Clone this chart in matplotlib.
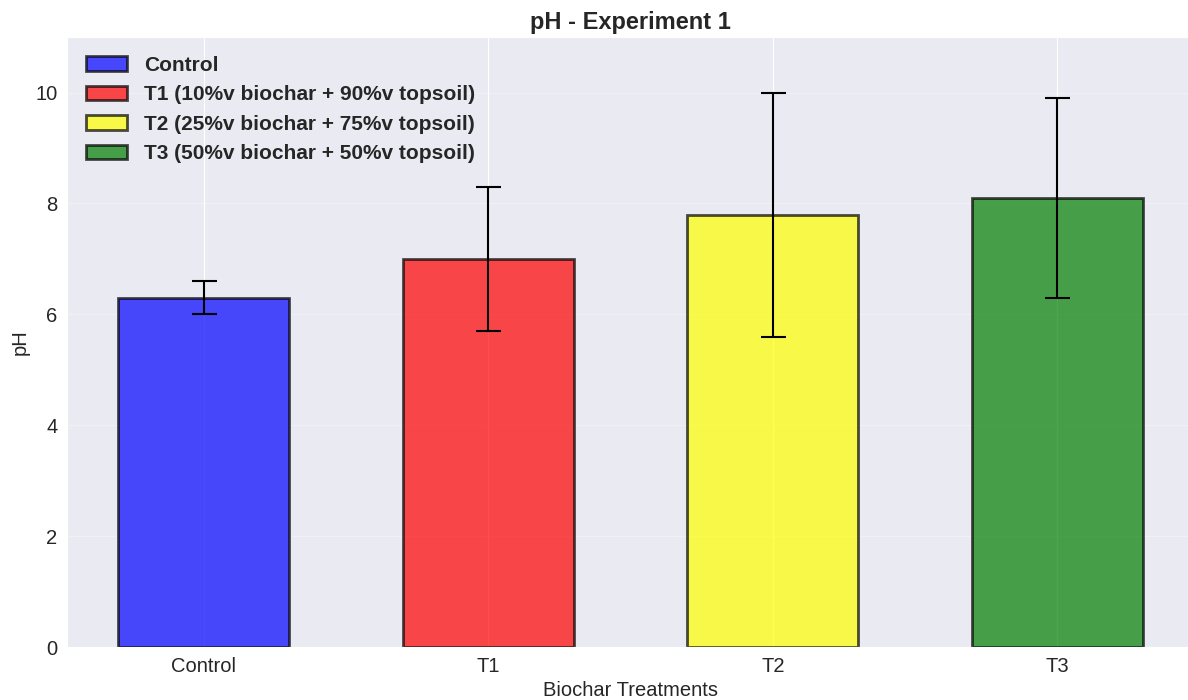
import matplotlib
matplotlib.use("Agg")
import matplotlib.pyplot as plt
import seaborn as sns

sns.set_style("darkgrid")
plt.rcParams['font.family'] = ['Liberation Sans', 'DejaVu Sans']

treatments = ["Control", "T1", "T2", "T3"]
labels = ["Control",
          "T1 (10%v biochar + 90%v topsoil)",
          "T2 (25%v biochar + 75%v topsoil)",
          "T3 (50%v biochar + 50%v topsoil)"]
ph_mean = [6.3, 7.0, 7.8, 8.1]
ph_err = [0.3, 1.3, 2.2, 1.8]
colors = ["blue", "red", "yellow", "green"]

fig, ax = plt.subplots(figsize=(11.88, 7), dpi=100)

bars = ax.bar(treatments, ph_mean, yerr=ph_err, width=0.6, color=colors,
              alpha=0.7, edgecolor="black", linewidth=2, capsize=9,
              error_kw={"elinewidth": 1.5, "capthick": 1.5, "ecolor": "black"})
for b, lab in zip(bars, labels):
    b.set_label(lab)

ax.set_ylim(0, 11)
ax.grid(axis="y", alpha=0.3)
ax.set_title("pH - Experiment 1", fontsize=17, fontweight="bold")
ax.set_xlabel("Biochar Treatments", fontsize=14.5)
ax.set_ylabel("pH", fontsize=14.5)
ax.tick_params(labelsize=14.5)
ax.legend(prop={"size": 15, "weight": "bold"}, loc="upper left", frameon=False)

# the original image is cropped a little on the right
fig.subplots_adjust(left=0.0564, right=1.005, top=0.947, bottom=0.0757)
plt.savefig("out.png")
